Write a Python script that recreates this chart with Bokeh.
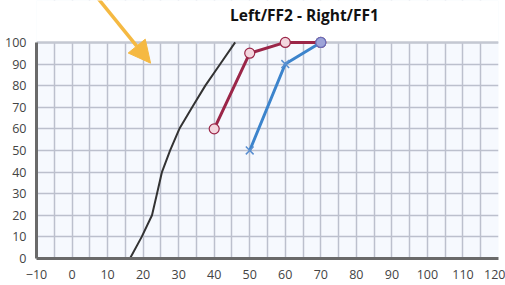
from bokeh.plotting import figure
from bokeh.models import Range1d, FixedTicker, Arrow, NormalHead, Label, BoxAnnotation, Span
from bokeh.embed import file_html
from bokeh.resources import INLINE

# Data
black_x = [16.3, 19.6, 22.5, 23.9, 25.3, 27.6, 30.2, 33.8, 37.5, 41.7, 45.9]
black_y = [0, 10, 20, 30, 40, 50, 60, 70, 80, 90, 100]

left_x = [40, 50, 60, 70]
left_y = [60, 95, 100, 100]

right_x = [50, 60, 70]
right_y = [50, 90, 100]

x_ticks = [-10, 0, 10, 20, 30, 40, 50, 60, 70, 80, 90, 100, 110, 120]
y_ticks = [0, 10, 20, 30, 40, 50, 60, 70, 80, 90, 100]
title_text = "Left/FF2 - Right/FF1"

p = figure(width=505, height=285, output_backend="svg", toolbar_location=None,
           x_range=Range1d(-10, 120), y_range=Range1d(0, 119.4),
           min_border_left=36, min_border_right=7, min_border_top=0, min_border_bottom=27)
p.background_fill_color = "#F6F9FE"
p.border_fill_color = "white"
p.outline_line_color = None

p.xaxis.ticker = FixedTicker(ticks=x_ticks, minor_ticks=[t + 5 for t in x_ticks])
p.yaxis.ticker = FixedTicker(ticks=y_ticks)
p.yaxis.bounds = (0, 100)
for ax in (p.xaxis[0], p.yaxis[0]):
    ax.major_tick_line_color = None
    ax.minor_tick_line_color = None
    ax.major_label_text_font = "Open Sans"
    ax.major_label_text_font_size = "12.5px"
    ax.major_label_text_color = "#444444"
    ax.axis_line_color = "#6A6A6A"
    ax.axis_line_width = 3
p.xaxis.major_label_standoff = 5
p.yaxis.major_label_standoff = 4

p.xgrid.grid_line_color = "#BCC0CD"
p.xgrid.minor_grid_line_color = "#BCC0CD"
p.ygrid.grid_line_color = "#BCC0CD"
for g in (p.xgrid[0], p.ygrid[0]):
    g.grid_line_width = 1.5
p.xgrid.minor_grid_line_width = 1.5

# white area above the chart
p.add_layout(BoxAnnotation(bottom=100, fill_color="white", fill_alpha=1.0,
                           line_color=None, level="underlay"))
p.add_layout(Span(location=100, dimension="width", line_color="#C4C8D2", line_width=2.5,
                  level="underlay"))

p.line(black_x, black_y, line_color="#333333", line_width=2)

p.line(left_x, left_y, line_color="#9B2648", line_width=3)
p.scatter(left_x, left_y, marker="circle", size=10, fill_color="#F3D6DE",
          line_color="#9B2648", line_width=1.2)

p.line(right_x, right_y, line_color="#3C84CC", line_width=3)
p.scatter(right_x, right_y, marker="x", size=11, line_color="#5A8FD0", line_width=1.5)
p.scatter([70], [100], marker="circle", size=10, fill_color="#9DA3D8",
          line_color="#6A6FB8", line_width=1.2)

p.add_layout(Arrow(end=NormalHead(size=22, fill_color="#F5B942", line_color="#F5B942"),
                   x_start=6.6, y_start=121.8, x_end=22.1, y_end=90.4,
                   line_color="#F5B942", line_width=3.5))

p.add_layout(Label(x=65.4, y=112.5, text=title_text, text_align="center",
                   text_baseline="middle", text_font="Open Sans", text_font_size="15.5px",
                   text_font_style="bold", text_color="#111111"))

open("out.html", "w").write(file_html(p, INLINE))
